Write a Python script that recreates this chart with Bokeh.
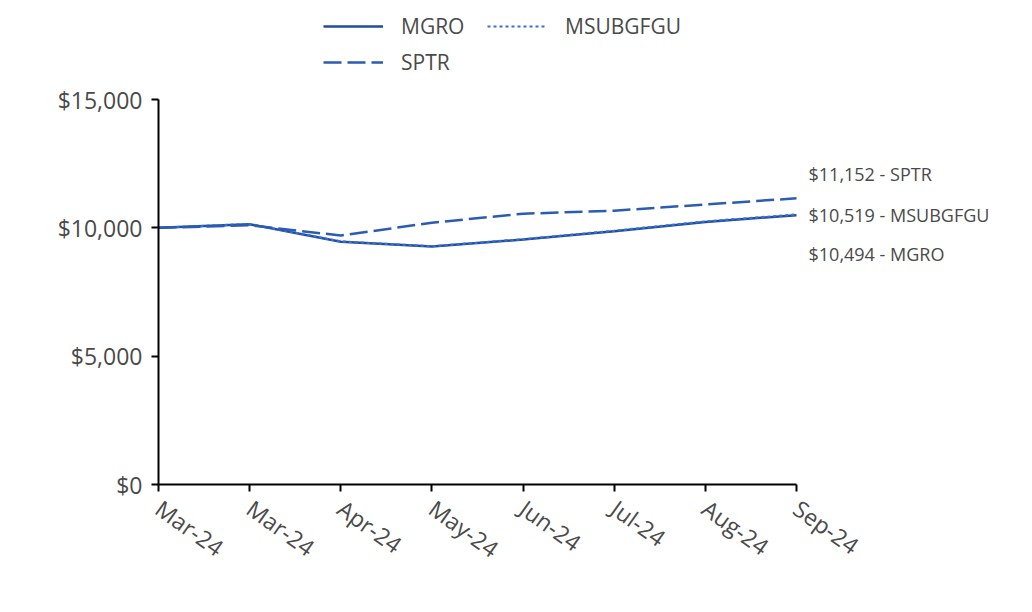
from bokeh.plotting import figure
from bokeh.models import Legend, LegendItem, FixedTicker, ColumnDataSource, NumeralTickFormatter, LabelSet
from bokeh.core.properties import value
from bokeh.embed import file_html
from bokeh.resources import INLINE

months = ["Mar-24", "Mar-24", "Apr-24", "May-24", "Jun-24", "Jul-24", "Aug-24", "Sep-24"]
mgro = [10000, 10140, 9460, 9270, 9545, 9870, 10230, 10494]
msubgfgu = [10000, 10150, 9470, 9280, 9555, 9885, 10250, 10519]
sptr = [10000, 10100, 9700, 10200, 10550, 10670, 10910, 11152]
y_ticks = [0, 5000, 10000, 15000]

FONT = "Open Sans"
TXT = "#4a4a4a"
C_MGRO = "#1f4e9c"
C_MSUB = "#3b6fd4"
C_SPTR = "#2b5cb3"

W, H = 1032, 612
LEFT, BOTTOM = 158, 128
AX_RIGHT_PX, AX_TOP_PX = 796, 99
n = len(months)
x = list(range(n))
ymax = y_ticks[-1]
frame_w = W - LEFT
frame_h = H - BOTTOM
x_end = (n - 1) * frame_w / (AX_RIGHT_PX - LEFT)
y_end = ymax * frame_h / (frame_h - AX_TOP_PX)

p = figure(width=W, height=H, output_backend="svg", toolbar_location=None,
           x_range=(0, x_end), y_range=(0, y_end),
           min_border_left=LEFT, min_border_right=0, min_border_top=0, min_border_bottom=BOTTOM)
p.outline_line_color = None
p.xgrid.visible = False
p.ygrid.visible = False
p.background_fill_color = "white"
p.border_fill_color = "white"

r_mgro = p.line(x, mgro, line_color=C_MGRO, line_width=2.5)
r_msub = p.line(x, msubgfgu, line_color=C_MSUB, line_width=2.2, line_dash="3 3")
r_sptr = p.line(x, sptr, line_color=C_SPTR, line_width=2.5, line_dash="18 6")

# end labels
names = ["SPTR", "MSUBGFGU", "MGRO"]
ends = [sptr[-1], msubgfgu[-1], mgro[-1]]
src = ColumnDataSource(dict(
    x=[n - 1] * 3,
    y=ends,
    t=[f"${v:,} - {nm}" for v, nm in zip(ends, names)],
    yo=[24, 0, -39],
))
labels = LabelSet(x="x", y="y", text="t", source=src, x_offset=12, y_offset="yo",
                  text_font=value(FONT), text_font_size=value("18px"), text_color=value(TXT),
                  text_baseline=value("middle"), text_align=value("left"))
p.add_layout(labels)

# axes
p.xaxis.ticker = FixedTicker(ticks=x)
p.xaxis.major_label_overrides = {i: m for i, m in enumerate(months)}
p.xaxis.major_label_orientation = -0.62
p.xaxis.bounds = (0, n - 1)
p.yaxis.ticker = FixedTicker(ticks=y_ticks)
p.yaxis.formatter = NumeralTickFormatter(format="$0,0")
p.yaxis.bounds = (0, ymax)
for ax in (p.xaxis[0], p.yaxis[0]):
    ax.axis_line_color = "black"
    ax.axis_line_width = 2
    ax.major_tick_line_color = "black"
    ax.major_tick_line_width = 2
    ax.major_tick_out = 7
    ax.major_tick_in = 0
    ax.minor_tick_line_color = None
    ax.major_label_text_font = FONT
    ax.major_label_text_font_size = "23px"
    ax.major_label_text_color = TXT
p.yaxis.major_label_standoff = 9
p.xaxis.major_label_standoff = 14

legend = Legend(items=[
    LegendItem(label="MGRO", renderers=[r_mgro]),
    LegendItem(label="MSUBGFGU", renderers=[r_msub]),
    LegendItem(label="SPTR", renderers=[r_sptr]),
], location=(165, 408), orientation="horizontal", ncols=2)
legend.glyph_width = 60
legend.glyph_height = 20
legend.label_standoff = 18
legend.label_width = 78
legend.label_height = 27
legend.spacing = 8
legend.padding = 0
legend.margin = 0
legend.border_line_color = None
legend.background_fill_alpha = 0
legend.label_text_font = FONT
legend.label_text_font_size = "21px"
legend.label_text_color = TXT
p.add_layout(legend, "center")

open("out.html", "w").write(file_html(p, INLINE))
